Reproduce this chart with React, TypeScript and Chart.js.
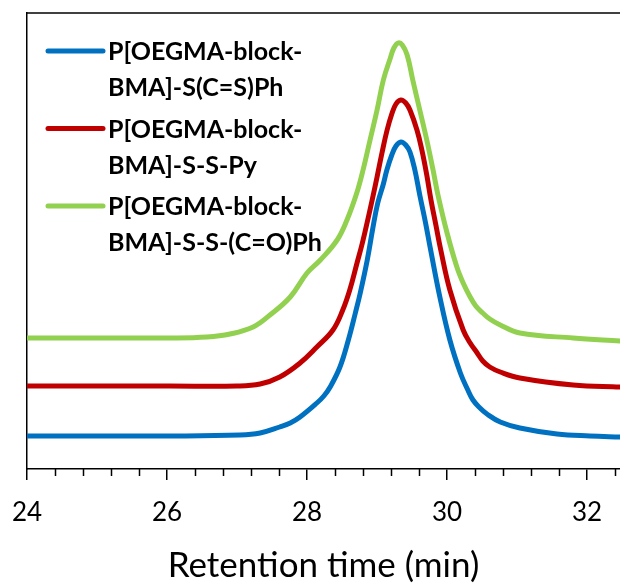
import React, { useEffect, useRef } from 'react';
import { Chart, registerables } from 'chart.js';

Chart.register(...registerables);

// ---- Data ----
const SERIES_LABELS = [
  'P[OEGMA-block-BMA]-S(C=S)Ph',
  'P[OEGMA-block-BMA]-S-S-Py',
  'P[OEGMA-block-BMA]-S-S-(C=O)Ph',
];
const SERIES_COLORS = ['#0070C0', '#C00000', '#92D050'];

const BLUE_TIME = [24.0, 25.04, 26.04, 27.04, 27.33, 27.61, 27.76, 27.9, 28.14, 28.24, 28.33, 28.47, 28.59, 28.69, 28.76, 28.86, 28.94, 29.01, 29.09, 29.14, 29.21, 29.27, 29.34, 29.41, 29.47, 29.54, 29.61, 29.69, 29.76, 29.9, 30.04, 30.19, 30.29, 30.37, 30.47, 30.57, 30.76, 31.04, 31.57, 32.04, 32.47];
const BLUE_SIGNAL = [0.33, 0.33, 0.33, 0.34, 0.36, 0.42, 0.46, 0.52, 0.66, 0.73, 0.82, 1.02, 1.29, 1.56, 1.76, 2.09, 2.41, 2.66, 2.85, 2.99, 3.14, 3.23, 3.27, 3.24, 3.17, 2.99, 2.74, 2.47, 2.21, 1.71, 1.29, 0.96, 0.8, 0.69, 0.61, 0.55, 0.47, 0.41, 0.35, 0.33, 0.32];

const RED_TIME = [24.0, 25.04, 26.04, 27.0, 27.33, 27.61, 27.9, 28.14, 28.37, 28.51, 28.61, 28.71, 28.79, 28.86, 28.93, 29.0, 29.07, 29.14, 29.21, 29.27, 29.34, 29.41, 29.47, 29.57, 29.64, 29.71, 29.77, 29.84, 29.91, 30.04, 30.23, 30.33, 30.43, 30.51, 30.61, 30.76, 31.04, 31.8, 32.47];
const RED_SIGNAL = [0.83, 0.83, 0.83, 0.83, 0.85, 0.92, 1.06, 1.22, 1.39, 1.59, 1.79, 2.05, 2.26, 2.47, 2.69, 2.92, 3.16, 3.38, 3.55, 3.65, 3.69, 3.66, 3.59, 3.39, 3.19, 2.94, 2.69, 2.44, 2.19, 1.79, 1.39, 1.26, 1.16, 1.08, 1.02, 0.97, 0.91, 0.84, 0.82];

const GREEN_TIME = [24.0, 25.04, 26.04, 26.57, 26.9, 27.23, 27.47, 27.76, 28.0, 28.19, 28.43, 28.57, 28.71, 28.8, 28.9, 29.0, 29.09, 29.19, 29.24, 29.3, 29.36, 29.43, 29.51, 29.61, 29.71, 29.8, 29.87, 30.0, 30.14, 30.23, 30.33, 30.41, 30.51, 30.61, 30.76, 31.04, 31.8, 32.47];
const GREEN_SIGNAL = [1.31, 1.31, 1.31, 1.32, 1.35, 1.42, 1.54, 1.72, 1.96, 2.09, 2.29, 2.49, 2.76, 2.99, 3.29, 3.59, 3.89, 4.11, 4.21, 4.26, 4.24, 4.14, 3.89, 3.59, 3.29, 2.99, 2.74, 2.36, 2.02, 1.86, 1.72, 1.63, 1.56, 1.5, 1.44, 1.36, 1.31, 1.28];

const SERIES_TIMES = [BLUE_TIME, RED_TIME, GREEN_TIME];
const SERIES_SIGNALS = [BLUE_SIGNAL, RED_SIGNAL, GREEN_SIGNAL];

const X_MIN = 24;
const X_MAX = 32.47;
const X_MAJOR_STEP = 2;
const X_MINOR_STEP = 0.4;
const Y_MIN = 0;
const Y_MAX = 4.56;
const X_TITLE = 'Retention time (min)';

const FONT = 'Lato, "Open Sans", "DejaVu Sans", sans-serif';
const AXIS_COLOR = '#000000';
const TEXT_COLOR = '#000000';

// ---- Plugin: top frame line, minor ticks, legend ----
const decorPlugin = {
  id: 'decor',
  afterDraw(chart: any) {
    const { ctx, chartArea: a, scales } = chart;
    const xs = scales.x;
    ctx.save();
    ctx.strokeStyle = AXIS_COLOR;
    ctx.lineWidth = 1.5;
    ctx.beginPath();
    ctx.moveTo(a.left, a.top);
    ctx.lineTo(a.right, a.top);
    ctx.stroke();

    // minor ticks
    ctx.beginPath();
    const n = Math.floor((X_MAX - X_MIN) / X_MINOR_STEP + 1e-6);
    for (let i = 0; i <= n; i++) {
      const v = X_MIN + i * X_MINOR_STEP;
      const r = v / X_MAJOR_STEP;
      if (Math.abs(r - Math.round(r)) < 1e-6) continue;
      const px = Math.round(xs.getPixelForValue(v)) + 0.5;
      ctx.moveTo(px, a.bottom);
      ctx.lineTo(px, a.bottom + 7);
    }
    ctx.stroke();

    // legend
    const items = chart.data.datasets;
    ctx.font = `bold 25px ${FONT}`;
    ctx.textBaseline = 'middle';
    ctx.textAlign = 'left';
    items.forEach((ds: any, i: number) => {
      const y0 = 51 + i * 77.5;
      ctx.strokeStyle = ds.borderColor;
      ctx.lineWidth = 5;
      ctx.lineCap = 'round';
      ctx.beginPath();
      ctx.moveTo(48, y0);
      ctx.lineTo(103, y0);
      ctx.stroke();
      const label: string = ds.label;
      const cut = label.indexOf('block-') + 'block-'.length;
      const lines = [label.slice(0, cut), label.slice(cut)];
      ctx.fillStyle = TEXT_COLOR;
      lines.forEach((t, k) => ctx.fillText(t, 108, y0 + 1 + k * 36));
    });
    ctx.restore();
  },
};

export default function App() {
  const canvasRef = useRef<HTMLCanvasElement | null>(null);

  useEffect(() => {
    document.body.style.margin = '0';
    const canvas = canvasRef.current;
    if (!canvas) return;
    const datasets = SERIES_LABELS.map((label, i) => ({
      label,
      data: SERIES_TIMES[i].map((t, k) => ({ x: t, y: SERIES_SIGNALS[i][k] })),
      borderColor: SERIES_COLORS[i],
      backgroundColor: SERIES_COLORS[i],
      borderWidth: 5,
      pointRadius: 0,
      fill: false,
      tension: 0.4,
      borderCapStyle: 'round' as const,
      borderJoinStyle: 'round' as const,
    }));
    const chart = new Chart(canvas, {
      type: 'line',
      data: { datasets },
      options: {
        animation: false,
        responsive: true,
        maintainAspectRatio: false,
        layout: { padding: { left: 27, top: 13, right: 0, bottom: 0 } },
        plugins: {
          legend: { display: false },
          tooltip: { enabled: false },
        },
        scales: {
          x: {
            type: 'linear',
            min: X_MIN,
            max: X_MAX,
            afterFit: (s: any) => {
              s.height = 114;
              s.paddingLeft = 0;
              s.paddingRight = 0;
            },
            ticks: {
              stepSize: X_MAJOR_STEP,
              includeBounds: false,
              color: TEXT_COLOR,
              font: { family: FONT, size: 26 },
              padding: 17,
              maxRotation: 0,
            },
            grid: {
              drawOnChartArea: false,
              drawTicks: true,
              tickLength: 11,
              color: AXIS_COLOR,
              lineWidth: 1.5,
            },
            border: { display: true, color: AXIS_COLOR, width: 1.5 },
            title: {
              display: true,
              text: X_TITLE,
              color: TEXT_COLOR,
              font: { family: FONT, size: 35 },
              padding: { top: 0, bottom: -4 },
            },
          },
          y: {
            type: 'linear',
            min: Y_MIN,
            max: Y_MAX,
            afterFit: (s: any) => {
              s.width = 0;
            },
            ticks: { display: false },
            grid: { drawOnChartArea: false, drawTicks: false, color: AXIS_COLOR },
            border: { display: true, color: AXIS_COLOR, width: 1.5 },
          },
        },
      },
      plugins: [decorPlugin],
    });
    return () => chart.destroy();
  }, []);

  return (
    <div style={{ width: 620, height: 583, position: 'relative' }}>
      <canvas ref={canvasRef} />
    </div>
  );
}
